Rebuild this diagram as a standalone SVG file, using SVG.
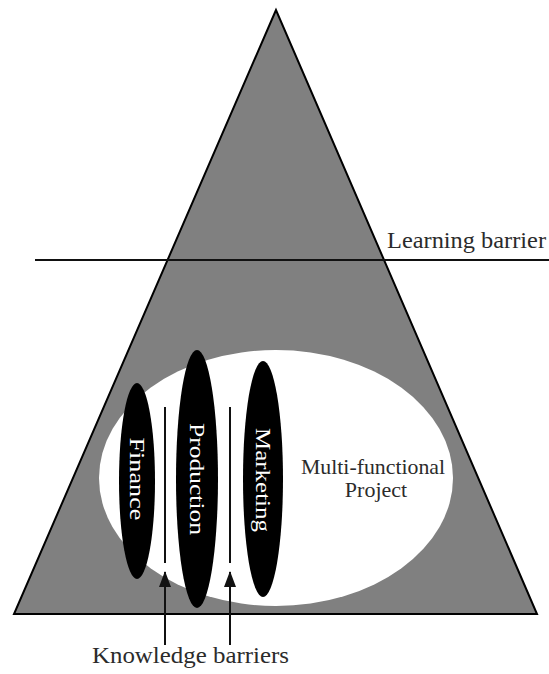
<svg xmlns="http://www.w3.org/2000/svg" width="549" height="674" viewBox="0 0 549 674">
<style>
.lbl{font-family:'Liberation Serif','Times New Roman',Times,serif;fill:#2b2b2b}
.wlbl{font-family:'Liberation Serif','Times New Roman',Times,serif;fill:#ffffff;text-anchor:middle}
.func{fill:#000000}
.barrier{stroke:#111111;stroke-width:2;fill:none}
.arrow{stroke:#111111;stroke-width:2;fill:none;marker-end:url(#ah)}
</style>
<defs>
<marker id="ah" viewBox="0 0 16 12" refX="15" refY="6" markerWidth="16" markerHeight="12" markerUnits="userSpaceOnUse" orient="auto">
<path d="M0,0 L16,6 L0,12 Z" fill="#111111"/>
</marker>
</defs>
<rect width="549" height="674" fill="#ffffff"/>
<g id="pyramid">
<polygon points="276,10 14,614 537,614" fill="#808080" stroke="#000000" stroke-width="2"/>
</g>
<g id="learning-barrier">
<line x1="35" y1="260" x2="549" y2="260" stroke="#111111" stroke-width="2"/>
<text class="lbl" x="387" y="248" font-size="24" textLength="159" lengthAdjust="spacingAndGlyphs">Learning barrier</text>
</g>
<g id="project">
<ellipse cx="276" cy="478" rx="177" ry="128" fill="#ffffff"/>
<text class="lbl" x="373" y="474" font-size="22" text-anchor="middle" textLength="144" lengthAdjust="spacingAndGlyphs">Multi-functional</text>
<text class="lbl" x="376" y="497" font-size="22" text-anchor="middle">Project</text>
</g>
<g id="finance">
<ellipse class="func" cx="137" cy="481" rx="18" ry="98"/>
<text class="wlbl" transform="translate(137,479) rotate(90)" y="7" font-size="22" textLength="83" lengthAdjust="spacingAndGlyphs">Finance</text>
</g>
<g id="production">
<ellipse class="func" cx="197" cy="479" rx="21" ry="129"/>
<text class="wlbl" transform="translate(197,479) rotate(90)" y="7" font-size="22" textLength="112" lengthAdjust="spacingAndGlyphs">Production</text>
</g>
<g id="marketing">
<ellipse class="func" cx="263" cy="479" rx="20" ry="118"/>
<text class="wlbl" transform="translate(263,480) rotate(90)" y="7" font-size="22" textLength="104" lengthAdjust="spacingAndGlyphs">Marketing</text>
</g>
<g id="knowledge-barriers">
<line class="barrier" x1="165" y1="407" x2="165" y2="563"/>
<line class="barrier" x1="230" y1="407" x2="230" y2="563"/>
<text class="lbl" x="92" y="663" font-size="24" textLength="197" lengthAdjust="spacingAndGlyphs">Knowledge barriers</text>
</g>
<g id="connectors">
<line class="arrow" x1="165" y1="645" x2="165" y2="572"/>
<line class="arrow" x1="230" y1="645" x2="230" y2="572"/>
</g>
</svg>
